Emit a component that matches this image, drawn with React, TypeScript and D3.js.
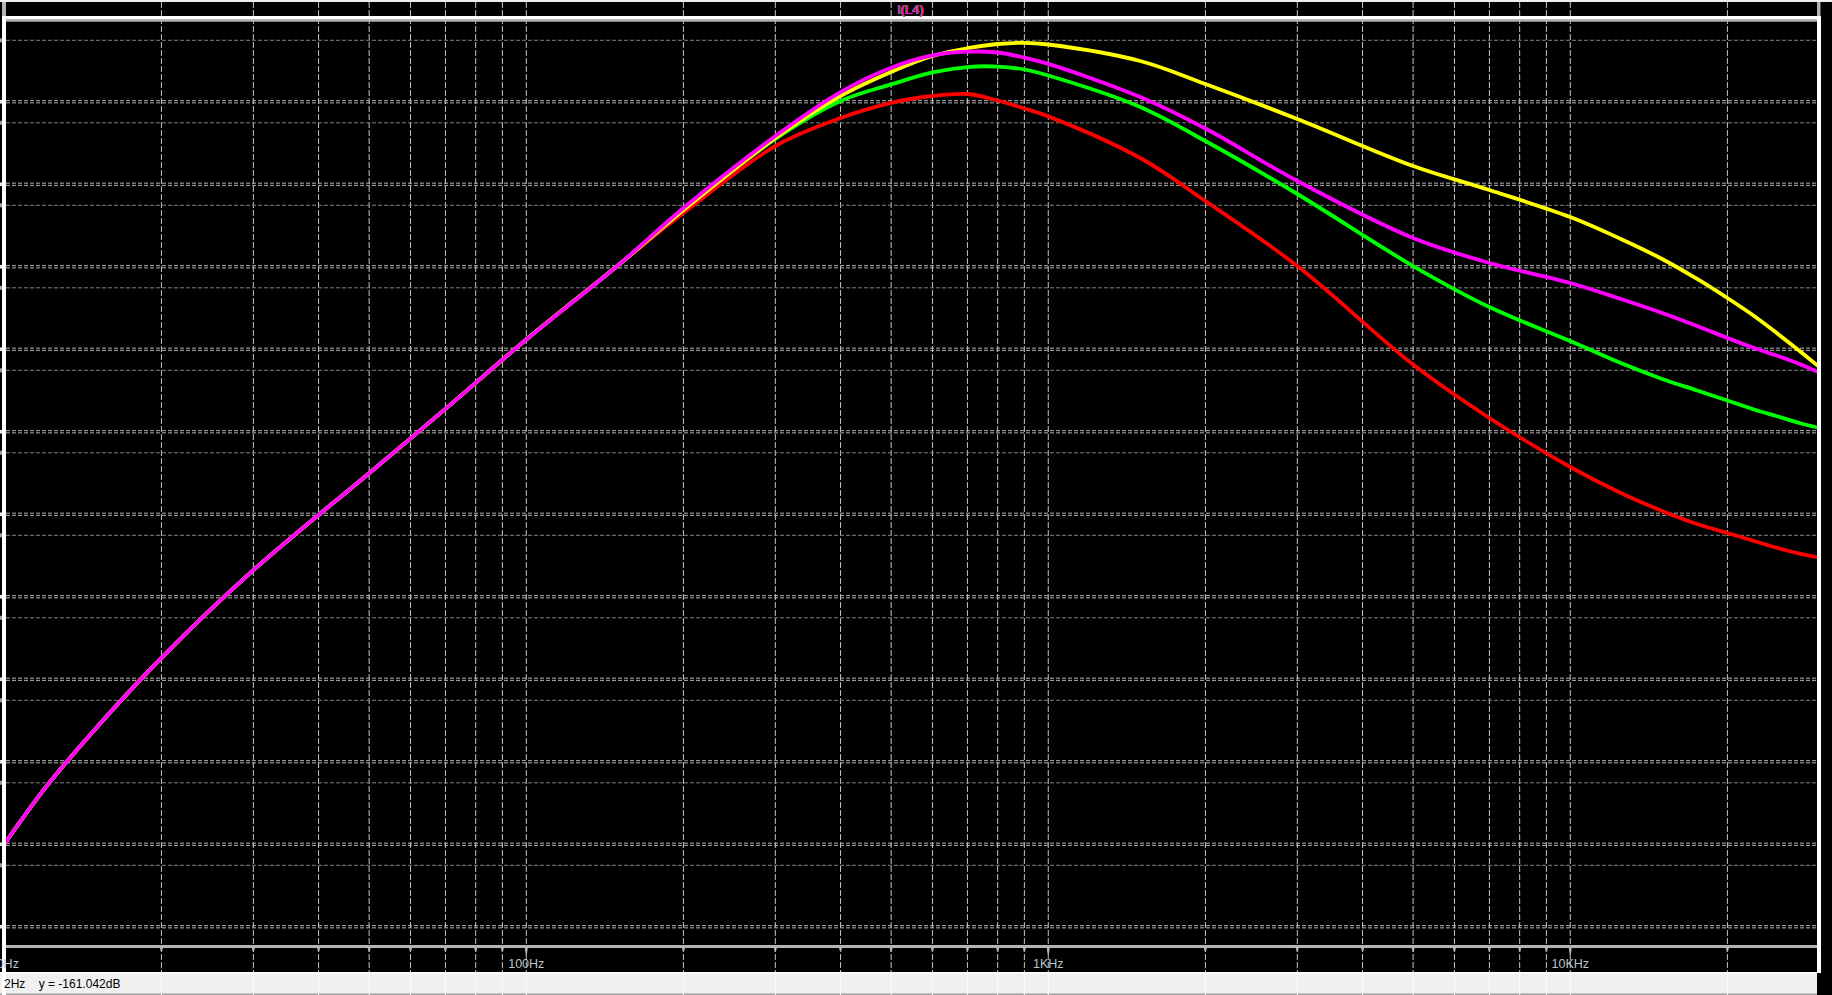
import React from 'react';
import * as d3 from 'd3';

// ---- Data (frequency in Hz, level in dB) ----
const lowFreqs = [10, 12, 15, 20, 30, 50, 70, 100, 150];
const lowDb = [-157.45, -150.56, -143.35, -134.85, -124.23, -112.47, -104.68, -96.27, -87.26];

const highFreqs = [200, 300, 400, 500, 600, 700, 800, 900, 1000, 1500, 2000, 3000, 5000, 7000, 10000, 12500, 15000, 17500, 20000, 22500, 25000, 27500, 30000];
const redDb = [-80.93, -72.81, -69.42, -67.58, -66.75, -66.51, -67.30, -68.27, -69.22, -74.27, -79.48, -87.36, -99.30, -105.78, -111.72, -114.87, -117.05, -118.63, -119.72, -120.69, -121.54, -122.21, -122.69];
const greenDb = [-80.57, -71.96, -67.36, -65.35, -63.90, -63.24, -63.18, -63.54, -64.27, -68.08, -72.21, -78.63, -87.36, -92.33, -96.45, -99.12, -101.05, -102.45, -103.66, -104.75, -105.60, -106.39, -106.99];
const yellowDb = [-80.57, -71.84, -66.75, -63.84, -61.90, -60.96, -60.45, -60.30, -60.51, -62.51, -65.30, -69.54, -75.24, -78.15, -81.42, -84.08, -86.51, -88.93, -91.24, -93.42, -95.60, -97.66, -99.60];
const magentaDb = [-80.33, -71.60, -66.27, -63.33, -61.84, -61.38, -61.48, -62.11, -62.85, -66.87, -70.69, -77.05, -83.96, -86.99, -89.42, -91.36, -93.05, -94.63, -96.08, -97.30, -98.27, -99.24, -100.27];

const seriesNames = ['red', 'green', 'yellow', 'magenta'];
const seriesColors = ['#ff0000', '#00ff00', '#ffff00', '#ff00ff'];
const seriesHigh = [redDb, greenDb, yellowDb, magentaDb];

const gridFreqs = [20, 30, 40, 50, 60, 70, 80, 90, 100, 200, 300, 400, 500, 600, 700, 800, 900, 1000, 2000, 3000, 4000, 5000, 6000, 7000, 8000, 9000, 10000, 20000];
const decadeFreqs = [10, 100, 1000, 10000];
const decadeLabels = ['10Hz', '100Hz', '1KHz', '10KHz'];
const majorDb = [-60, -70, -80, -90, -100, -110, -120, -130, -140, -150, -160];
const secondaryDb = [-67.45, -77.45, -87.45, -97.45, -107.45, -117.45, -127.45, -137.45, -147.45, -157.45, -167.45];

const traceTitle = 'I(L4)';
const statusText = '2Hz    y = -161.042dB';

const W = 1832;
const H = 995;
const PL = 6, PR = 1817, PT = 21.7, PB = 945;

export default function App() {
  const x = d3.scaleLog().domain([10, 30000]).range([4.3, 1819.3]);
  const y = d3.scaleLinear().domain([-60, -170]).range([40.3, 947.8]);

  const line = d3
    .line<[number, number]>()
    .x((d) => x(d[0]))
    .y((d) => y(d[1]))
    .curve(d3.curveCatmullRom.alpha(0.5));

  const series = seriesHigh.map((hi) => {
    const pts: [number, number][] = [];
    lowFreqs.forEach((f, i) => pts.push([f, lowDb[i]]));
    highFreqs.forEach((f, i) => pts.push([f, hi[i]]));
    return pts;
  });

  const titleX = 910.5;

  return (
    <svg
      width={W}
      height={H}
      style={{ position: 'absolute', left: 0, top: 0, display: 'block' }}
      fontFamily="'Liberation Sans', Arial, sans-serif"
    >
      <defs>
        <clipPath id="plotClip">
          <rect x={PL} y={PT} width={PR - PL} height={PB - PT} />
        </clipPath>
      </defs>
      <rect x={0} y={0} width={W} height={H} fill="#000" />
      <rect x={0} y={0} width={W} height={2} fill="#f0f0f0" />

      {/* vertical grid */}
      {gridFreqs.map((f) => (
        <line key={'vg' + f} x1={x(f)} x2={x(f)} y1={2} y2={972} stroke="#c4c4c4" strokeWidth={1} strokeDasharray="6,2" />
      ))}

      {/* horizontal major grid */}
      {majorDb.map((d) => (
        <g key={'hm' + d}>
          <line x1={PL} x2={PR} y1={y(d)} y2={y(d)} stroke="#808080" strokeWidth={1} strokeDasharray="4,2" />
          <rect x={0} y={y(d) - 2} width={2} height={4} fill="#a0a0a0" />
        </g>
      ))}
      {/* secondary grid (double lines) */}
      {secondaryDb.map((d) => (
        <g key={'hs' + d}>
          <line x1={PL} x2={PR} y1={y(d) - 1.1} y2={y(d) - 1.1} stroke="#b4b4b4" strokeWidth={1} strokeDasharray="4,2" />
          <line x1={PL} x2={PR} y1={y(d) + 1.1} y2={y(d) + 1.1} stroke="#b4b4b4" strokeWidth={1} strokeDasharray="4,2" />
          <rect x={0} y={y(d) - 1.8} width={2} height={3.6} fill="#e8e8e8" />
        </g>
      ))}

      {/* traces */}
      <g clipPath="url(#plotClip)">
        {series.map((pts, i) => (
          <path
            key={seriesNames[i]}
            d={line(pts) || ''}
            fill="none"
            stroke={seriesColors[i]}
            strokeWidth={3.8}
            strokeLinejoin="round"
          />
        ))}
      </g>

      {/* frame */}
      <rect x={2} y={16} width={1819} height={3} fill="#ffffff" />
      <rect x={2} y={19} width={1815} height={2.7} fill="#b4b4b4" />
      <rect x={2} y={2} width={4} height={14} fill="#b4b4b4" />
      <rect x={2} y={16} width={4} height={979} fill="#ffffff" />
      <rect x={1817} y={2} width={3.5} height={14} fill="#b4b4b4" />
      <rect x={1817} y={16} width={4} height={957} fill="#ffffff" />

      {/* bottom axis */}
      <rect x={PL} y={945} width={PR - PL} height={3} fill="#b4b4b4" />
      {gridFreqs.map((f) => (
        <path
          key={'tk' + f}
          d={`M${x(f) - 1.5},948 L${x(f) + 1.5},948 L${x(f) + 0.5},${decadeFreqs.includes(f) ? 955 : 952} L${x(f) - 0.5},${decadeFreqs.includes(f) ? 955 : 952} Z`}
          fill="#b4b4b4"
        />
      ))}
      {decadeFreqs.map((f, i) => (
        <text key={'lb' + f} x={x(f)} y={968} textAnchor="middle" fontSize={12.5} fill="#bcc4ce">
          {decadeLabels[i]}
        </text>
      ))}

      {/* title */}
      <text x={titleX - 0.5} y={13.5} textAnchor="middle" fontSize={13} fill="#00ff00">{traceTitle}</text>
      <text x={titleX + 0.5} y={13.5} textAnchor="middle" fontSize={13} fill="#ff4040">{traceTitle}</text>
      <text x={titleX} y={13.5} textAnchor="middle" fontSize={13} fill="#ff00ff">{traceTitle}</text>

      {/* status bar */}
      <rect x={0} y={972} width={PR} height={23} fill="#f0f0f0" />
      <rect x={0} y={972} width={PR} height={1.5} fill="#ffffff" />
      <rect x={0} y={993.5} width={PR} height={1.5} fill="#a0a0a0" />
      <rect x={2} y={972} width={4} height={23} fill="#ffffff" />
      {gridFreqs.map((f) => (
        <line key={'sg' + f} x1={x(f)} x2={x(f)} y1={973} y2={995} stroke="#ffffff" strokeWidth={1} strokeDasharray="6,2" />
      ))}
      <text x={4} y={988} fontSize={12} fill="#000" xmlSpace="preserve" style={{ whiteSpace: 'pre' }}>{statusText}</text>
    </svg>
  );
}
